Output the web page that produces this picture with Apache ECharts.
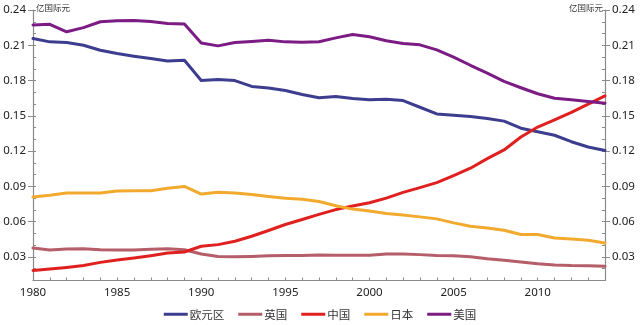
<!DOCTYPE html>
<html>
<head>
<meta charset="utf-8">
<script src="https://cdn.jsdelivr.net/npm/echarts@6/dist/echarts.min.js"></script>
<style>html,body{margin:0;padding:0;background:#fff}#c{width:640px;height:325px}</style>
</head>
<body>
<div id="c"></div>
<script>
var years = [];
for (var y = 1980; y <= 2014; y++) years.push(String(y));

var yTicksMajor = [0.03, 0.06, 0.09, 0.12, 0.15, 0.18, 0.21, 0.24];
var yTicksMinor = [0.01,0.02,0.03,0.04,0.05,0.06,0.07,0.08,0.09,0.10,0.11,0.12,0.13,0.14,0.15,0.16,0.17,0.18,0.19,0.20,0.21,0.22,0.23,0.24];
var unitName = '亿国际元';

var euroArea = [0.2158,0.2129,0.2124,0.2100,0.2058,0.2030,0.2007,0.1987,0.1967,0.1973,
                0.1800,0.1810,0.1800,0.1750,0.1736,0.1716,0.1682,0.1654,0.1665,0.1648,
                0.1637,0.1642,0.1630,0.1573,0.1516,0.1505,0.1495,0.1478,0.1455,0.1395,
                0.1365,0.1335,0.1280,0.1235,0.1205];
var uk =       [0.0376,0.0359,0.0368,0.0370,0.0362,0.0359,0.0359,0.0365,0.0370,0.0362,
                0.0325,0.0305,0.0302,0.0305,0.0310,0.0313,0.0313,0.0316,0.0314,0.0314,
                0.0314,0.0325,0.0326,0.0320,0.0312,0.0311,0.0302,0.0285,0.0272,0.0258,
                0.0242,0.0232,0.0227,0.0226,0.0222];
var china =    [0.0186,0.0197,0.0211,0.0228,0.0254,0.0274,0.0291,0.0311,0.0333,0.0342,
                0.0391,0.0405,0.0434,0.0476,0.0525,0.0576,0.0619,0.0662,0.0703,0.0733,
                0.0761,0.0800,0.0849,0.0890,0.0932,0.0992,0.1055,0.1136,0.1210,0.1320,
                0.1405,0.1465,0.1530,0.1600,0.1670];
var japan =    [0.0810,0.0824,0.0844,0.0844,0.0844,0.0861,0.0864,0.0864,0.0884,0.0900,
                0.0835,0.0850,0.0845,0.0832,0.0815,0.0800,0.0790,0.0772,0.0735,0.0707,
                0.0690,0.0670,0.0656,0.0641,0.0624,0.0590,0.0562,0.0547,0.0527,0.0491,
                0.0491,0.0462,0.0453,0.0442,0.0419];
var usa =      [0.2272,0.2278,0.2215,0.2250,0.2300,0.2309,0.2310,0.2303,0.2286,0.2280,
                0.2120,0.2095,0.2124,0.2132,0.2143,0.2129,0.2126,0.2130,0.2163,0.2192,
                0.2172,0.2138,0.2115,0.2104,0.2061,0.2000,0.1930,0.1864,0.1793,0.1739,
                0.1688,0.1650,0.1637,0.1622,0.1608];

var names = ['欧元区', '英国', '中国', '日本', '美国'];
var colors = ['#3d3d8f', '#b55d68', '#e0201f', '#f2aa2e', '#7b1b83'];
var seriesData = [euroArea, uk, china, japan, usa];

var FONT = "'Noto Sans', 'Noto Sans CJK SC', sans-serif";
var axisColor = '#8a8a8a';

function yAxisPair(pos) {
  var base = {
    type: 'value', position: pos, min: 0.01, max: 0.24,
    splitLine: { show: false }
  };
  var a = Object.assign({}, base, {
    name: unitName,
    nameLocation: 'end',
    nameGap: 2,
    nameTextStyle: {
      fontFamily: "'Noto Sans CJK SC', sans-serif", fontSize: 8.5, color: '#333',
      align: pos === 'left' ? 'left' : 'right', verticalAlign: 'middle',
      padding: pos === 'left' ? [0, 0, 0, 3] : [0, 2, 0, 0]
    },
    axisLine: { show: true, lineStyle: { color: axisColor, width: 1.2 } },
    axisTick: { show: true, inside: true, length: 3, customValues: yTicksMinor, lineStyle: { color: axisColor } },
    axisLabel: {
      show: true, customValues: yTicksMajor, margin: 7,
      fontFamily: FONT, fontSize: 11.5, color: '#222',
      formatter: function (v) { return (Math.round(v * 100) / 100).toFixed(2); }
    }
  });
  var b = Object.assign({}, base, {
    axisLine: { show: false },
    axisTick: { show: true, inside: false, length: 5, customValues: yTicksMajor, lineStyle: { color: axisColor } },
    axisLabel: { show: false }
  });
  return [a, b];
}

var yAxes = yAxisPair('left').concat(yAxisPair('right'));

var series = names.map(function (n, i) {
  return {
    name: n, type: 'line', data: seriesData[i], yAxisIndex: 0,
    symbol: 'none', smooth: false,
    lineStyle: { color: colors[i], width: 3, cap: 'round', join: 'round' },
    itemStyle: { color: colors[i] },
    z: [2, 3, 4, 5, 6][i]
  };
});

var chart = echarts.init(document.getElementById('c'), null, { renderer: 'canvas' });
chart.setOption({
  animation: false,
  backgroundColor: '#ffffff',
  grid: { left: 33, right: 35, top: 10, bottom: 44.5, containLabel: false },
  xAxis: {
    type: 'category', data: years, boundaryGap: false,
    axisLine: { show: true, lineStyle: { color: axisColor, width: 1.2 } },
    axisTick: { show: true, inside: true, length: 3, interval: 0, lineStyle: { color: axisColor } },
    axisLabel: { interval: 4, margin: 6, fontFamily: FONT, fontSize: 11.5, color: '#222' },
    splitLine: { show: false }
  },
  yAxis: yAxes,
  legend: {
    bottom: 0, left: 'center',
    icon: 'rect', itemWidth: 24, itemHeight: 3, itemGap: 14,
    textStyle: { fontFamily: "'Noto Sans CJK SC', sans-serif", fontSize: 11.5, color: '#333', width: 34, padding: [0, 0, 0, -3] },
    data: names
  },
  series: series
});
</script>
</body>
</html>
